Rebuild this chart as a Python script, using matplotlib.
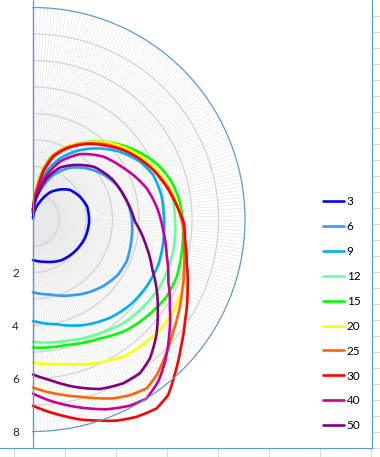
import numpy as np
import matplotlib
matplotlib.use("Agg")
import matplotlib.pyplot as plt

plt.rcParams['font.family'] = ['Lato', 'DejaVu Sans']

# ---------------- data (polar: angle in degrees from the downward axis, radius) -------------
series_labels = ["3", "6", "9", "12", "15", "20", "25", "30", "40", "50"]
series_colors = ["#0000FF", "#3399FF", "#00B0F0", "#66FF99", "#00FF00",
                 "#FFFF00", "#FF6600", "#FF0000", "#CC0099", "#800080"]

theta_3 = [0, 15.9, 34.4, 52.9, 69.5, 87.8, 103.4, 115.9, 128.6, 136.5, 148.0, 158.6, 168.0, 180]
r_3 = [1.53, 1.66, 1.87, 1.99, 2.08, 2.12, 2.10, 1.97, 1.79, 1.57, 1.21, 0.72, 0.37, 0.05]

theta_6 = [0, 12.7, 27, 37, 47, 56.7, 66, 77, 90.7, 101.8, 112.4, 122.7, 133.6, 144.5, 155.4, 164.5, 173.6, 180]
r_6 = [2.75, 2.90, 3.21, 3.45, 3.66, 3.82, 3.87, 3.80, 3.73, 3.61, 3.42, 3.15, 2.80, 2.40, 1.85, 1.22, 0.68, 0.25]

theta_9 = [0, 12.6, 25.6, 38.4, 49.2, 60.0, 70.0, 80.3, 90.5, 100.8, 110.3, 118.4, 127.9, 138.2, 147.5, 156.2, 164.1, 170.3, 174.0, 180]
r_9 = [3.83, 4.05, 4.42, 4.72, 4.89, 4.98, 5.03, 4.99, 4.94, 4.93, 4.84, 4.59, 4.16, 3.60, 3.07, 2.52, 1.88, 1.19, 0.49, 0.28]

theta_12 = [0, 15.5, 30.5, 41.0, 51.7, 62.1, 72.3, 83.1, 89.8, 97.2, 104.5, 112.8, 120.8, 129.4, 138.8, 148.1, 156.7, 164.3, 169.2, 173.8, 180]
r_12 = [4.62, 4.75, 4.98, 5.19, 5.31, 5.42, 5.43, 5.40, 5.36, 5.34, 5.21, 4.99, 4.70, 4.33, 3.84, 3.36, 2.90, 2.37, 1.75, 1.06, 0.35]

theta_15 = [0, 15.0, 29.4, 40.3, 49.5, 60.0, 68.3, 77.2, 89.8, 97.6, 105.3, 113.5, 121.3, 130.0, 139.3, 148.4, 156.9, 164.5, 169.4, 173.8, 180]
r_15 = [4.83, 4.90, 5.15, 5.47, 5.64, 5.82, 5.84, 5.75, 5.65, 5.57, 5.42, 5.16, 4.80, 4.37, 3.88, 3.39, 2.92, 2.40, 1.77, 1.06, 0.35]

theta_20 = [0, 11.9, 23.9, 33.4, 41.5, 49.0, 56.7, 64.1, 72.2, 80.5, 87.9, 95.0, 102.8, 110.9, 119.0, 127.2, 136.3, 145.2, 155.2, 162.5, 168.2, 172.9, 180]
r_20 = [5.40, 5.57, 5.92, 6.20, 6.29, 6.35, 6.34, 6.24, 6.02, 5.83, 5.67, 5.51, 5.30, 5.06, 4.76, 4.44, 4.03, 3.55, 3.03, 2.55, 1.91, 1.12, 0.35]

theta_25 = [0, 4.5, 9.8, 14.9, 19.6, 24.2, 28.9, 34.0, 38.5, 43.9, 49.8, 55.0, 63.1, 72.1, 80.4, 87.9, 95.1, 103.0, 110.5, 119.5, 127.6, 135.6, 144.8, 154.9, 162.5, 168.2, 172.9, 180]
r_25 = [6.34, 6.52, 6.72, 6.92, 7.16, 7.40, 7.57, 7.68, 7.50, 7.18, 6.85, 6.62, 6.29, 5.99, 5.78, 5.66, 5.47, 5.24, 4.98, 4.64, 4.30, 3.97, 3.52, 2.99, 2.55, 1.91, 1.12, 0.35]

theta_30 = [0, 4.1, 8.8, 13.2, 17.6, 22.6, 27.7, 33.2, 37.6, 42.7, 49.1, 56.2, 64.7, 74.1, 82.3, 88.5, 96.5, 103.8, 112.4, 121.2, 127.6, 134.7, 144.6, 154.7, 162.1, 167.8, 172.5, 180]
r_30 = [7.03, 7.25, 7.50, 7.75, 7.96, 8.22, 8.41, 8.52, 8.36, 7.90, 7.38, 6.90, 6.45, 6.03, 5.79, 5.70, 5.42, 5.19, 4.91, 4.57, 4.30, 3.95, 3.50, 2.97, 2.49, 1.85, 1.06, 0.35]

theta_40 = [0, 5.4, 14.0, 21.2, 27.5, 32.4, 37.7, 42.9, 49.7, 57.0, 65.3, 75.1, 84.7, 95.9, 105.3, 113.9, 120.8, 131.8, 144.3, 155.0, 165.3, 171.5, 180]
r_40 = [6.57, 6.87, 7.31, 7.68, 7.92, 8.00, 7.73, 7.32, 6.74, 6.16, 5.62, 5.22, 4.94, 4.69, 4.45, 4.14, 3.89, 3.56, 3.04, 2.41, 1.54, 0.93, 0.35]

theta_50 = [0, 6.0, 13.6, 21.6, 28.9, 34.8, 40.1, 46.6, 53.2, 60.4, 67.3, 77.0, 88.8, 102.4, 116.7, 130.5, 141.3, 152.5, 161.6, 168.5, 180]
r_50 = [5.85, 6.09, 6.49, 6.88, 7.06, 7.07, 6.85, 6.40, 5.88, 5.37, 4.88, 4.38, 3.85, 3.58, 3.36, 3.05, 2.64, 2.21, 1.64, 1.01, 0.25]

all_theta = [theta_3, theta_6, theta_9, theta_12, theta_15, theta_20, theta_25, theta_30, theta_40, theta_50]
all_r = [r_3, r_6, r_9, r_12, r_15, r_20, r_25, r_30, r_40, r_50]

r_tick_values = [2, 4, 6, 8]
r_max = 8

# ---------------- layout (pixels) ----------------
W, H = 380, 457
cx, cy, R = 33.0, 219.5, 212.0          # centre and radius of the polar area
frame_right, frame_bottom = 372.0, 448.0
axis_blue = "#5B9BD5"
tick_grey = "#D9D9D9"

fig = plt.figure(figsize=(W / 100, H / 100), dpi=100)

# background frame with category-style tick marks
bg = fig.add_axes([0, (H - frame_bottom) / H, frame_right / W, frame_bottom / H])
cat_step, cat_first = 51.0, 14.0
bg.set_xlim(-cat_first / cat_step, (frame_right - cat_first) / cat_step)
bg.set_xticks(range(8))
row_step, row_first = 16.0, 0.3
bg.set_ylim(-row_first / row_step, (frame_bottom - row_first) / row_step)
bg.set_yticks(range(28))
bg.yaxis.tick_right()
bg.tick_params(axis='both', direction='out', color=tick_grey, width=0.8,
               labelbottom=False, labelright=False, labelleft=False)
bg.tick_params(axis='x', length=6.6)
bg.tick_params(axis='y', length=6.0)
for s in ['left', 'top']:
    bg.spines[s].set_visible(False)
for s in ['bottom', 'right']:
    bg.spines[s].set_color(axis_blue)
    bg.spines[s].set_linewidth(0.8)

# polar half-disc: matplotlib squares the wedge box, so the axes is a 2R square
ax = fig.add_axes([(cx - R / 2) / W, (H - cy - R) / H, 2 * R / W, 2 * R / H],
                  projection='polar')
ax.set_theta_zero_location('S')
ax.set_theta_direction(1)
ax.set_thetamin(0)
ax.set_thetamax(180)
ax.set_ylim(0, r_max)
ax.set_thetagrids(np.arange(0, 181, 1), labels=[])
ax.set_rgrids(np.arange(1, r_max), labels=[])
ax.xaxis.grid(True, color="#E8E8E8", linewidth=0.5)
ax.yaxis.grid(True, color="#D3D3D3", linewidth=0.9)
ax.tick_params(axis='both', which='both', length=0, width=0)
ax.patch.set_visible(False)

for lab, col, th, rr in zip(series_labels, series_colors, all_theta, all_r):
    ln, = ax.plot(np.radians(th), rr, color=col, lw=1.9, label=lab, clip_on=False,
                  solid_joinstyle='round', solid_capstyle='round')
    ln.get_path()._interpolation_steps = 12   # draw segments along polar spirals

for name, sp in ax.spines.items():
    sp.set_visible(name == 'polar')
ax.spines['polar'].set_color(axis_blue)
ax.spines['polar'].set_linewidth(0.9)

# left value axis (radius downward)
la = fig.add_axes([cx / W, (H - frame_bottom) / H, 0.0001, frame_bottom / H])
px_per_r = R / r_max
la.set_ylim((frame_bottom - cy) / px_per_r, -cy / px_per_r)
la.set_yticks(r_tick_values)
la.set_yticklabels([str(v) for v in r_tick_values])
la.tick_params(axis='y', length=0, pad=10, labelsize=8.5, labelcolor="#262626")
la.set_xticks([])
for s in ['top', 'right', 'bottom']:
    la.spines[s].set_visible(False)
la.spines['left'].set_color(axis_blue)
la.spines['left'].set_linewidth(0.9)
la.patch.set_visible(False)

handles, labels = ax.get_legend_handles_labels()
fig.legend(handles, labels, loc='center left', bbox_to_anchor=(323 / W, 1 - 313.7 / H),
           frameon=False, fontsize=8.5, handlelength=1.8, handletextpad=0.2,
           labelspacing=1.18, borderpad=0, borderaxespad=0)

fig.savefig("out.png", dpi=100)
